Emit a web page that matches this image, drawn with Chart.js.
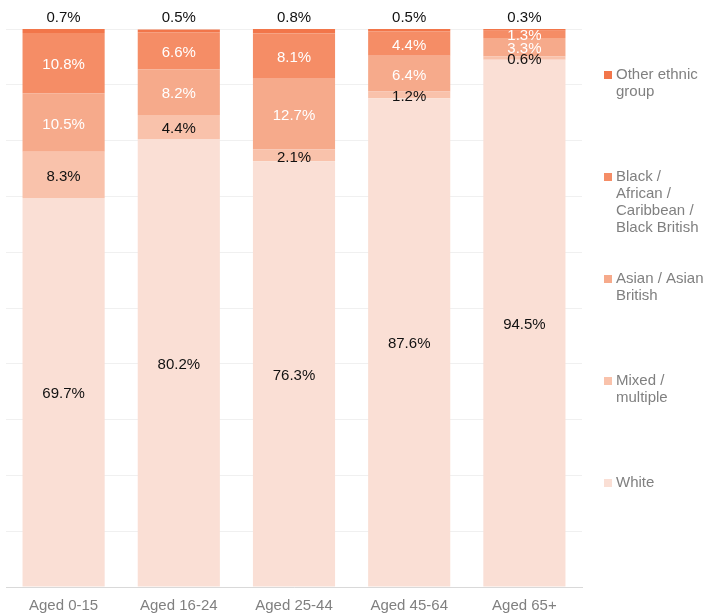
<!DOCTYPE html>
<html>
<head>
<meta charset="utf-8">
<script src="https://cdn.jsdelivr.net/npm/chart.js@4.4.0/dist/chart.umd.min.js"></script>
<style>
  body { margin: 0; background: #fff; }
</style>
</head>
<body>
<canvas id="myChart" width="720" height="614"></canvas>
<script>
const categories = ['Aged 0-15', 'Aged 16-24', 'Aged 25-44', 'Aged 45-64', 'Aged 65+'];

const white = [69.7, 80.2, 76.3, 87.6, 94.5];
const mixed = [8.3, 4.4, 2.1, 1.2, 0.6];
const asian = [10.5, 8.2, 12.7, 6.4, 3.3];
const black = [10.8, 6.6, 8.1, 4.4, 1.3];
const other = [0.7, 0.5, 0.8, 0.5, 0.3];

const FONT = '"Liberation Sans", Arial, sans-serif';

// stacked bottom to top
const series = [
    { label: 'White', data: white, color: '#fadfd5', text: '#111' },
    { label: 'Mixed / multiple', data: mixed, color: '#f9c2ab', text: '#111' },
    { label: 'Asian / Asian British', data: asian, color: '#f6aa8b', text: '#fff' },
    { label: 'Black / African / Caribbean / Black British', data: black, color: '#f58d66', text: '#fff' },
    { label: 'Other ethnic group', data: other, color: '#f2764a', text: '#111', above: true }
];

// draws the % labels on each segment
const labelPlugin = {
    id: 'segLabels',
    afterDatasetsDraw(chart) {
        const ctx = chart.ctx;
        ctx.save();
        ctx.font = '15px ' + FONT;
        ctx.textAlign = 'center';
        ctx.textBaseline = 'middle';
        chart.data.datasets.forEach((ds, i) => {
            const meta = chart.getDatasetMeta(i);
            meta.data.forEach((bar, j) => {
                const txt = ds.data[j].toFixed(1) + '%';
                ctx.fillStyle = ds.textColor;
                if (ds.above) {
                    ctx.fillText(txt, bar.x, chart.chartArea.top - 11);
                } else {
                    ctx.fillText(txt, bar.x, (bar.y + bar.base) / 2 + 2);
                }
            });
        });
        ctx.restore();
    }
};

// legend on the right, top series first
const legendPlugin = {
    id: 'sideLegend',
    afterDraw(chart) {
        const ctx = chart.ctx;
        ctx.save();
        ctx.font = '15px ' + FONT;
        ctx.textBaseline = 'middle';
        const items = chart.data.datasets.slice().reverse();
        items.forEach((ds, i) => {
            const y = 75 + i * 102;
            ctx.fillStyle = ds.backgroundColor;
            ctx.fillRect(604, y - 4, 8, 8);
            // word wrap
            const words = ds.label.split(' ');
            let lines = [];
            let line = '';
            for (let w of words) {
                const test = line ? line + ' ' + w : w;
                if (ctx.measureText(test).width > 90 && line) {
                    lines.push(line);
                    line = w;
                } else {
                    line = test;
                }
            }
            lines.push(line);
            ctx.fillStyle = '#808080';
            lines.forEach((l, k) => ctx.fillText(l, 616, y + k * 17));
        });
        ctx.restore();
    }
};

new Chart(document.getElementById('myChart'), {
    type: 'bar',
    data: {
        labels: categories,
        datasets: series.map(s => ({
            label: s.label,
            data: s.data,
            backgroundColor: s.color,
            textColor: s.text,
            above: s.above || false,
            borderWidth: 0,
            categoryPercentage: 1,
            barPercentage: 0.713
        }))
    },
    options: {
        responsive: false,
        animation: false,
        layout: { padding: { top: 29, left: 6, right: 138, bottom: 1 } },
        plugins: {
            legend: { display: false },
            tooltip: { enabled: false }
        },
        scales: {
            x: {
                stacked: true,
                afterFit: (axis) => { axis.height = 26; },
                grid: { display: false },
                border: { color: '#d9d9d9', width: 1 },
                ticks: { color: '#808080', font: { size: 15, family: FONT }, padding: 2, maxRotation: 0 }
            },
            y: {
                stacked: true,
                min: 0,
                max: 100,
                ticks: { display: false, stepSize: 10 },
                grid: { color: '#f0f0f0', drawTicks: false },
                border: { display: false }
            }
        }
    },
    plugins: [labelPlugin, legendPlugin]
});
</script>
</body>
</html>
